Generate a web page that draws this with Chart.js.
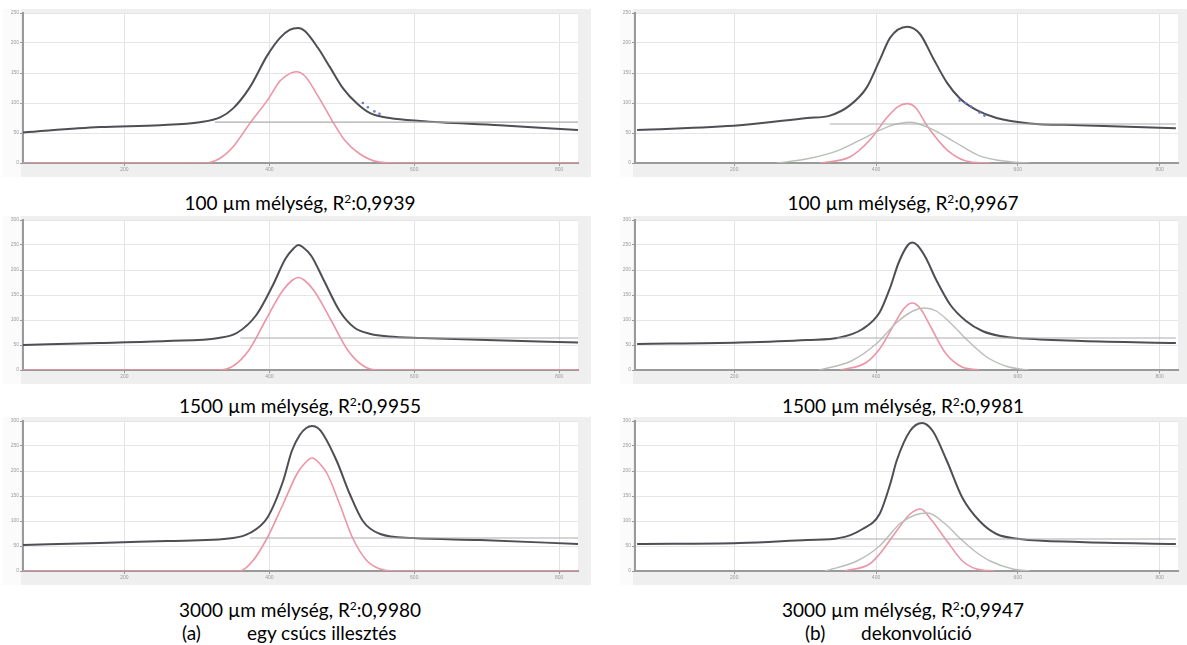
<!DOCTYPE html>
<html>
<head>
<meta charset="utf-8">
<script src="https://cdn.jsdelivr.net/npm/chart.js@4/dist/chart.umd.min.js"></script>
<style>
body { margin: 0; background: #fff; width: 1187px; height: 645px; position: relative; overflow: hidden; font-family: Lato, "Noto Sans", sans-serif; }
.panel { position: absolute; }
.cap { position: absolute; font-size: 19px; color: #000; white-space: nowrap; transform: translate(-50%, -50%); }
.sub { position: absolute; font-size: 19px; color: #000; white-space: nowrap; transform: translateY(-50%); }
sup { font-size: 12px; vertical-align: 7px; line-height: 0; }
</style>
</head>
<body>
<div class="panel" style="left:3px;top:9px;width:588px;height:168px"><canvas id="a1"></canvas></div>
<div class="panel" style="left:620px;top:9px;width:567px;height:168px"><canvas id="b1"></canvas></div>
<div class="panel" style="left:3px;top:216px;width:588px;height:168px"><canvas id="a2"></canvas></div>
<div class="panel" style="left:620px;top:216px;width:567px;height:168px"><canvas id="b2"></canvas></div>
<div class="panel" style="left:3px;top:417px;width:588px;height:168px"><canvas id="a3"></canvas></div>
<div class="panel" style="left:620px;top:417px;width:567px;height:168px"><canvas id="b3"></canvas></div>
<div id="caps"></div>
<script>
const xTicks = [200, 400, 600, 800];
const xMin = 60, xMax = 826;

// (a) egy csúcs illesztés, 100 µm
const a1BlackX = [60, 166, 249, 304, 332, 350, 373, 397, 415, 428, 440, 449, 467, 484, 502, 521, 539, 566, 608, 718, 826];
const a1BlackY = [51, 60, 63, 68, 76, 91, 126, 179, 209, 222, 225, 220, 192, 159, 124, 99, 83, 75, 70, 63, 55];
const a1PeakX = [60, 311, 332, 350, 373, 397, 415, 428, 437, 449, 467, 486, 504, 525, 550, 580, 826];
const a1PeakY = [0, 0, 8, 27, 66, 104, 137, 149, 152, 145, 112, 72, 38, 15, 2, 0, 0];
const a1BaseX = [325, 826];
const a1BaseY = [68, 68];
const a1DotsX = [529, 536, 545, 552];
const a1DotsY = [100, 93, 86, 82];

// 1500 µm
const a2BlackX = [60, 166, 259, 330, 355, 382, 405, 422, 434, 440, 446, 458, 475, 497, 518, 540, 565, 610, 700, 826];
const a2BlackY = [50, 54, 58, 64, 74, 110, 170, 222, 244, 250, 246, 228, 180, 118, 84, 72, 67, 64, 60, 55];
const a2PeakX = [60, 330, 350, 372, 395, 418, 432, 440, 448, 462, 485, 508, 530, 550, 826];
const a2PeakY = [0, 0, 8, 40, 100, 158, 180, 185, 180, 158, 100, 40, 8, 0, 0];
const a2BaseX = [360, 826];
const a2BaseY = [64, 64];

// 3000 µm
const a3BlackX = [60, 166, 259, 350, 373, 397, 419, 431, 442, 451, 459, 467, 474, 493, 511, 529, 553, 598, 691, 826];
const a3BlackY = [52, 56, 60, 66, 76, 106, 180, 240, 272, 286, 290, 286, 274, 220, 154, 100, 74, 66, 62, 54];
const a3PeakX = [60, 359, 377, 397, 419, 438, 448, 459, 470, 480, 497, 515, 535, 553, 573, 826];
const a3PeakY = [0, 0, 20, 66, 134, 194, 214, 226, 214, 194, 134, 66, 20, 4, 0, 0];
const a3BaseX = [373, 826];
const a3BaseY = [66, 66];

// (b) dekonvolúció, 100 µm
const b1BlackX = [63, 208, 303, 335, 363, 387, 405, 420, 444, 462, 480, 500, 518, 542, 570, 617, 687, 823];
const b1BlackY = [55, 63, 75, 79, 96, 126, 171, 209, 227, 215, 176, 134, 108, 88, 75, 66, 63, 58];
const b1PeakX = [321, 363, 391, 415, 431, 444, 456, 472, 500, 532, 561];
const b1PeakY = [0, 10, 38, 75, 94, 99, 92, 62, 22, 2, 0];
const b1BroadX = [260, 307, 349, 384, 420, 448, 476, 511, 546, 589, 617];
const b1BroadY = [0, 8, 22, 42, 62, 68, 58, 35, 12, 2, 0];
const b1BaseX = [335, 823];
const b1BaseY = [65, 65];
const b1DotsX = [518, 526, 534, 546, 553];
const b1DotsY = [104, 100, 94, 84, 79];

// 1500 µm
const b2BlackX = [63, 208, 303, 349, 381, 405, 420, 432, 445, 451, 458, 470, 485, 505, 527, 550, 575, 610, 690, 823];
const b2BlackY = [52, 55, 60, 65, 82, 115, 165, 215, 250, 255, 250, 225, 180, 130, 98, 78, 68, 63, 58, 54];
const b2PeakX = [350, 385, 405, 425, 440, 451, 462, 478, 498, 520, 545];
const b2PeakY = [0, 14, 42, 90, 124, 134, 124, 84, 34, 7, 0];
const b2BroadX = [320, 365, 400, 430, 452, 468, 485, 505, 530, 555, 585, 615];
const b2BroadY = [0, 18, 52, 96, 118, 124, 118, 94, 58, 27, 7, 0];
const b2BaseX = [345, 823];
const b2BaseY = [64, 64];

// 3000 µm
const b3BlackX = [63, 208, 303, 349, 381, 405, 420, 429, 448, 465, 480, 500, 522, 546, 570, 603, 687, 823];
const b3BlackY = [54, 56, 62, 66, 84, 114, 174, 220, 280, 296, 280, 220, 146, 100, 74, 64, 58, 54];
const b3PeakX = [356, 391, 405, 429, 448, 463, 476, 500, 522, 542, 568];
const b3PeakY = [0, 14, 34, 80, 114, 124, 106, 60, 20, 4, 0];
const b3BroadX = [328, 373, 405, 434, 455, 473, 497, 518, 539, 561, 593, 617];
const b3BroadY = [0, 20, 50, 95, 112, 116, 95, 66, 40, 20, 4, 0];
const b3BaseX = [349, 823];
const b3BaseY = [64, 64];

const captions = [
  ['100 µm mélység, R', '0,9939'], ['100 µm mélység, R', '0,9967'],
  ['1500 µm mélység, R', '0,9955'], ['1500 µm mélység, R', '0,9981'],
  ['3000 µm mélység, R', '0,9980'], ['3000 µm mélység, R', '0,9947']
];
const subLabels = ['(a)', '(b)'];
const subTexts = ['egy csúcs illesztés', 'dekonvolúció'];

function pts(xs, ys) {
  return xs.map((x, i) => ({x: x, y: ys[i]}));
}

const panelBg = {
  id: 'panelBg',
  beforeDraw(chart) {
    const {ctx, chartArea: a, width, height} = chart;
    ctx.save();
    ctx.fillStyle = '#efefef';
    ctx.fillRect(0, 0, width, height);
    ctx.fillStyle = '#fbfbfb';
    ctx.fillRect(0, 0, a.left - 2, height);
    ctx.fillStyle = '#ffffff';
    ctx.fillRect(a.left, a.top, a.right - a.left, a.bottom - a.top);
    ctx.restore();
  }
};

function line(data, color, width) {
  return {
    type: 'line', data: data, borderColor: color, borderWidth: width,
    pointRadius: 0, fill: false, cubicInterpolationMode: 'monotone'
  };
}

function makePanel(id, yMax, yWidth, rightPad, sets) {
  const ds = [];
  if (sets.base) ds.push(line(pts(sets.base[0], sets.base[1]), '#ababab', 1.2));
  if (sets.broad) ds.push(line(pts(sets.broad[0], sets.broad[1]), '#b9bfb8', 1.4));
  ds.push(line(pts(sets.peak[0], sets.peak[1]), '#ec95a5', 1.6));
  if (sets.dots) ds.push({
    type: 'scatter', data: pts(sets.dots[0], sets.dots[1]),
    pointRadius: 1.3, pointBackgroundColor: '#6b78d8', pointBorderWidth: 0
  });
  ds.push(line(pts(sets.black[0], sets.black[1]), '#4e4e54', 2));

  new Chart(document.getElementById(id), {
    type: 'line',
    data: {datasets: ds},
    plugins: [panelBg],
    options: {
      responsive: true,
      maintainAspectRatio: false,
      animation: false,
      layout: {padding: {left: 0, top: 3, right: rightPad, bottom: 0}},
      plugins: {legend: {display: false}, tooltip: {enabled: false}},
      scales: {
        x: {
          type: 'linear', min: xMin, max: xMax,
          afterBuildTicks: s => { s.ticks = xTicks.map(v => ({value: v})); },
          afterFit: s => { s.height = 14; },
          grid: {color: '#e3e3e3', tickLength: 3, tickColor: '#999'},
          border: {color: '#9a9a9a', width: 2},
          ticks: {font: {size: 5}, color: '#9a9a9a', padding: 1}
        },
        y: {
          min: 0, max: yMax,
          afterFit: s => { s.width = yWidth; },
          grid: {color: '#e6e6e6', tickLength: 3, tickColor: '#999'},
          border: {color: '#9a9a9a', width: 2},
          ticks: {stepSize: 50, font: {size: 5}, color: '#9a9a9a', padding: 1}
        }
      }
    }
  });
}

makePanel('a1', 250, 20, 13, {black: [a1BlackX, a1BlackY], peak: [a1PeakX, a1PeakY], base: [a1BaseX, a1BaseY], dots: [a1DotsX, a1DotsY]});
makePanel('a2', 300, 20, 13, {black: [a2BlackX, a2BlackY], peak: [a2PeakX, a2PeakY], base: [a2BaseX, a2BaseY]});
makePanel('a3', 300, 20, 13, {black: [a3BlackX, a3BlackY], peak: [a3PeakX, a3PeakY], base: [a3BaseX, a3BaseY]});
makePanel('b1', 250, 15, 9, {black: [b1BlackX, b1BlackY], peak: [b1PeakX, b1PeakY], broad: [b1BroadX, b1BroadY], base: [b1BaseX, b1BaseY], dots: [b1DotsX, b1DotsY]});
makePanel('b2', 300, 15, 9, {black: [b2BlackX, b2BlackY], peak: [b2PeakX, b2PeakY], broad: [b2BroadX, b2BroadY], base: [b2BaseX, b2BaseY]});
makePanel('b3', 300, 15, 9, {black: [b3BlackX, b3BlackY], peak: [b3PeakX, b3PeakY], broad: [b3BroadX, b3BroadY], base: [b3BaseX, b3BaseY]});

// captions below each panel
const capBox = document.getElementById('caps');
const capY = [202, 202, 405, 405, 609, 609];
const capX = [300, 903, 300, 903, 300, 903];
captions.forEach((c, i) => {
  const d = document.createElement('div');
  d.className = 'cap';
  d.style.left = capX[i] + 'px';
  d.style.top = capY[i] + 'px';
  d.innerHTML = c[0] + '<sup>2</sup>:' + c[1];
  capBox.appendChild(d);
});
const subX = [[182, 247], [805, 861]];
subLabels.forEach((s, i) => {
  const a = document.createElement('div');
  a.className = 'sub';
  a.style.left = subX[i][0] + 'px';
  a.style.top = '632px';
  a.textContent = s;
  capBox.appendChild(a);
  const b = document.createElement('div');
  b.className = 'sub';
  b.style.left = subX[i][1] + 'px';
  b.style.top = '632px';
  b.textContent = subTexts[i];
  capBox.appendChild(b);
});
</script>
</body>
</html>
